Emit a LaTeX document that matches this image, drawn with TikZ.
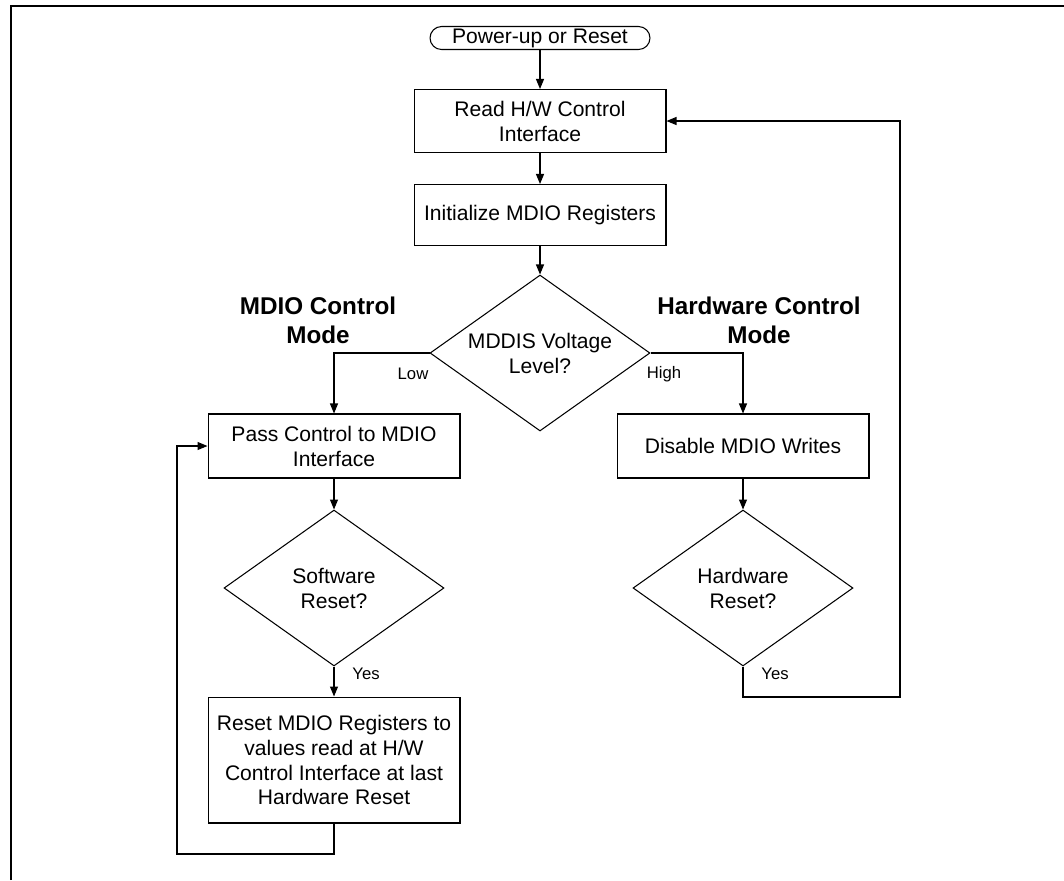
\documentclass[tikz,border=0pt]{standalone}
\usepackage{fontspec}
\setmainfont{Liberation Sans}
\usetikzlibrary{
    arrows.meta,
    positioning,
    shapes.geometric
}
\tikzset{
    % --- Process step (rectangle) ---
    procbox/.style = {
        rectangle, draw, line width=0.6pt,
        minimum width=5.04cm, minimum height=1.26cm,
        font=\fontsize{12}{14.2}\selectfont, align=center,
        inner sep=2pt
    },
    % --- Start terminal (rounded) ---
    terminal/.style = {
        rectangle, draw, line width=0.6pt, rounded corners=0.23cm,
        minimum width=4.4cm, minimum height=0.46cm,
        font=\fontsize{12}{14.2}\selectfont, inner sep=0pt
    },
    % --- Decision diamond ---
    decision/.style = {
        diamond, draw, line width=0.6pt, aspect=1.42,
        minimum width=4.4cm, minimum height=3.12cm,
        font=\fontsize{12}{14.2}\selectfont, align=center,
        inner sep=1pt
    },
    % --- Bold mode heading ---
    modelabel/.style = {
        font=\fontsize{13.8}{16.5}\selectfont\bfseries, align=center
    },
    % --- Branch label (Low / High / Yes) ---
    branch/.style = {
        font=\fontsize{9.5}{11}\selectfont, inner sep=0pt
    },
    % --- Flow arrow ---
    flow/.style = {
        -{Triangle[length=0.2cm,width=0.16cm]}, line width=0.6pt
    },
    % --- Plain line (no tip) ---
    wire/.style = {
        line width=0.6pt
    }
}

\begin{document}
\begin{tikzpicture}[x=0.02cm, y=-0.02cm]

\useasboundingbox (0,0) rectangle (1064,880);

% frame
\draw[line width=1.5pt] (11,880) -- (11,6) -- (1064,6);

% ---------------------------------------------------------
% Main column
% ---------------------------------------------------------
\node[terminal] (start) at (540,38) {Power-up or Reset};
\node[procbox] (readhw) at (540,121) {Read H/W Control\\Interface};
\node[procbox, minimum height=1.22cm] (initreg) at (540,215) {Initialize MDIO Registers};
\node[decision] (mddis) at (540,353) {MDDIS Voltage\\Level?};

\draw[flow] (start) -- (readhw);
\draw[flow] (readhw) -- (initreg);
\draw[flow] (initreg) -- (mddis);

% ---------------------------------------------------------
% MDIO control mode (left)
% ---------------------------------------------------------
\node[modelabel] (mdiomode) at (318,320) {MDIO Control\\Mode};
\node[procbox, minimum height=1.28cm] (passctl) at (334,446) {Pass Control to MDIO\\Interface};
\node[decision] (swreset) at (334,588) {Software\\Reset?};
\node[procbox, minimum height=2.52cm] (resetreg) at (334,760) {Reset MDIO Registers to\\values read at H/W\\Control Interface at last\\Hardware Reset};

\draw[flow] (mddis.west) -| (passctl.north);
\node[branch] (low) at (413,374) {Low};
\draw[flow] (passctl) -- (swreset);
\draw[flow] (swreset) -- (resetreg);
\node[branch] (swyes) at (366,674) {Yes};

% loop back to Pass Control
\coordinate (swloop) at (177,854);
\draw[flow] (resetreg.south) |- (swloop) |- (passctl.west);

% ---------------------------------------------------------
% Hardware control mode (right)
% ---------------------------------------------------------
\node[modelabel] (hwmode) at (759,320) {Hardware Control\\Mode};
\node[procbox, minimum height=1.28cm] (disable) at (743,446) {Disable MDIO Writes};
\node[decision] (hwreset) at (743,588) {Hardware\\Reset?};

\draw[flow] (mddis.east) -| (disable.north);
\node[branch] (high) at (664,374) {High};
\draw[flow] (disable) -- (hwreset);
\node[branch] (hwyes) at (775,674) {Yes};

% loop back to Read H/W Control
\coordinate (hwloop) at (900,697);
\draw[flow] (hwreset.south) |- (hwloop) |- (readhw.east);

\end{tikzpicture}
\end{document}
